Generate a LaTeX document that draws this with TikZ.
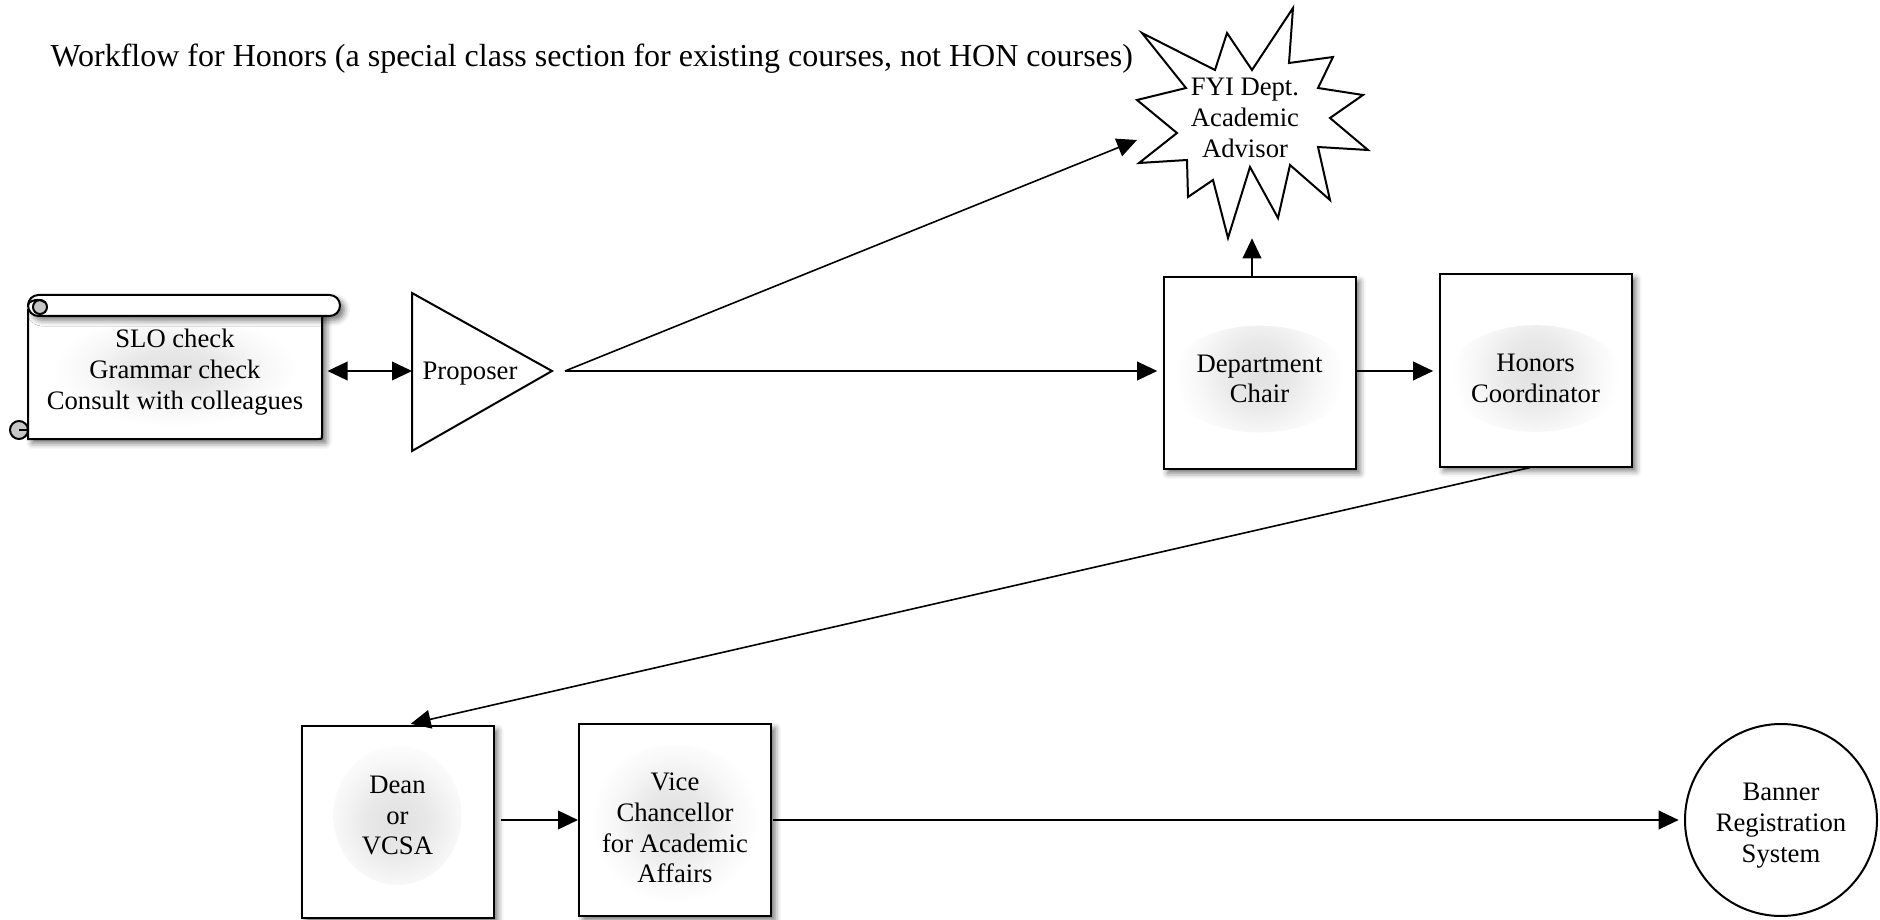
\documentclass[tikz,border=0pt]{standalone}
\usepackage{fontspec}
\setmainfont{Liberation Serif}
\usetikzlibrary{arrows.meta,shadows.blur}
\pgfdeclareradialshading{textglow}{\pgfpoint{0bp}{0bp}}{color(0bp)=(black!12); color(8bp)=(black!9); color(16bp)=(black!3); color(22bp)=(white); color(50bp)=(white)}
\tikzset{
    boxshadow/.style={blur shadow={shadow xshift=1.6pt,shadow yshift=-1.6pt,shadow blur radius=2.2pt,shadow opacity=55}},
    box/.style={draw,line width=0.75pt,fill=white,minimum width=72pt,minimum height=72pt,boxshadow},
    glow/.style 2 args={path picture={\shade[shading=textglow] ([yshift=#1]path picture bounding box.center) ellipse (#2);}},
    boxtext/.style={align=center},
    outline/.style={line width=0.75pt},
    tip/.style={-{Triangle[length=7.5pt,width=7pt,fill=black]}},
    flow/.style={line width=0.6pt,shorten >=2pt,tip},
    twoway/.style={line width=0.6pt,shorten <=2pt,{Triangle[length=7.5pt,width=7pt,fill=black]}-{Triangle[length=7.5pt,width=7pt,fill=black]}}
}

\begin{document}
\begin{tikzpicture}[x=0.375pt,y=-0.375pt,font=\fontsize{10}{11.5}\selectfont]
    \useasboundingbox (0,0) rectangle (1880,920);
    \node (title) [anchor=west,inner sep=0pt,font=\fontsize{12}{14}\selectfont] at (50,59) {Workflow for Honors (a special class section for existing courses, not HON courses)};

    \draw[outline,fill=white,boxshadow] (28,310) -- (28,439) -- (318,439) .. controls (322,439) .. (322,435) -- (322,310) -- cycle;
    \shade[shading=textglow] (175,370) ellipse (52pt and 24pt);
    \draw[outline,fill=white,boxshadow,rounded corners=3.9pt] (28,295) rectangle (340,316);
    \draw[outline,fill=gray!45] (40,307) circle (7);
    \draw[outline] (28,306) .. controls (28,300) and (40,298) .. (44,302);
    \draw[outline,fill=gray!45] (19,430) circle (9);
    \draw[outline] (19,430) -- (28,430);
    \node (slo) [minimum width=110pt,minimum height=54pt,align=center] at (175,372) {SLO check\\Grammar check\\Consult with colleagues};

    \draw[outline,fill=white] (412,293) -- (552,371) -- (412,451) -- cycle;
    \coordinate (propin) at (412,371);
    \coordinate (propout) at (565,371);
    \node (prop) at (470,374) {Proposer};

    \draw[outline,fill=white] (1142,33) -- (1215,70) -- (1227,33) -- (1252,70) -- (1293,8) -- (1289,63) -- (1333,57) -- (1318,88) -- (1363,95) -- (1330,118) -- (1368,150) -- (1318,147) -- (1330,200) -- (1290,165) -- (1278,218) -- (1250,167) -- (1228,238) -- (1213,180) -- (1188,197) -- (1187,160) -- (1139,163) -- (1177,133) -- (1137,100) -- (1186,88) -- cycle;
    \node (fyi) [align=center] at (1245,118) {FYI Dept.\\Academic\\Advisor};
    \coordinate (fyiin) at (1252,233);
    \coordinate (fyiarr) at (1142,138);

    \node (chair) [box,glow={-2.25pt}{34pt and 20pt},label={[name=chairtext,boxtext,yshift=-2.25pt]center:Department\\Chair}] at (1259.5,373) {};
    \node (hon) [box,glow={-3pt}{33pt and 20pt},label={[name=hontext,boxtext,yshift=-3pt]center:Honors\\Coordinator}] at (1535.5,370.5) {};
    \node (dean) [box,glow={2.4pt}{24pt and 26pt},label={[name=deantext,boxtext,yshift=2.4pt]center:Dean\\or\\VCSA}] at (397.5,822) {};
    \node (vc) [box,glow={-3pt}{35pt and 31pt},label={[name=vctext,boxtext,yshift=-3pt]center:Vice\\Chancellor\\for Academic\\Affairs}] at (675,820) {};
    \node (banner) [draw,circle,outline,minimum size=72pt,label={[name=bannertext,boxtext,yshift=-2.1pt]center:Banner\\Registration\\System}] at (1781,820) {};

    \draw[twoway] (slo.east |- propin) -- (propin);
    \draw[flow] (propout) -- (propout -| chair.west);
    \draw[flow] (propout) -- (fyiarr);
    \draw[flow] (chair.north -| fyiin) -- (fyiin);
    \draw[flow] (chair.east |- propout) -- (propout -| hon.west);
    \draw[flow] ([xshift=-2pt]hon.south) -- ([xshift=3pt]dean.north);
    \draw[flow,shorten <=2.5pt,shorten >=0pt] (vc.west -| dean.east) -- (vc.west);
    \draw[flow,shorten <=0.5pt] (vc.east) -- (banner.west);
\end{tikzpicture}
\end{document}
